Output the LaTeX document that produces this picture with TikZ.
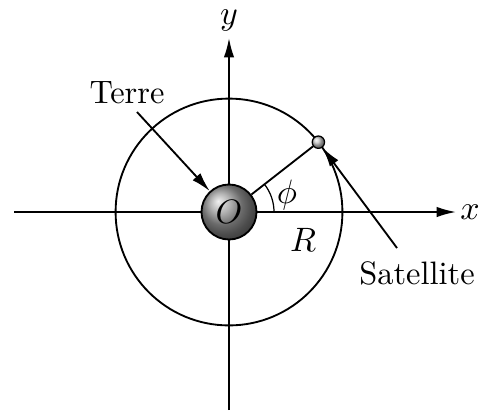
\documentclass[tikz,border=0pt]{standalone}
\usetikzlibrary{arrows.meta,calc}
\begin{document}
\begin{tikzpicture}[x=0.3236pt,y=-0.3236pt,
  every node/.style={font=\fontsize{10.5pt}{12.6pt}\selectfont},
  line/.style={line width=0.6pt},
  tip/.style={-{Latex[length=6.3pt,width=3.4pt]}},
  lbl/.style={inner sep=0pt}]
\useasboundingbox (0,0) rectangle (484,411);
\coordinate (O) at (229,212);
\coordinate (xs) at (14,212);
\coordinate (xe) at (456,212);
\coordinate (ys) at (229,410);
\coordinate (ye) at (229,38);
\draw[line,tip] (xs) -- (xe);
\draw[line,tip] (ys) -- (ye);
\draw[line] (O) circle[radius=36.7pt];
\node[lbl] (xl) at (470,212) {$x$};
\node[lbl] (yl) at (229,21) {$y$};
\node[circle,draw,line width=0.6pt,shading=ball,ball color=gray!80,minimum size=17.8pt,inner sep=0pt] (earth) at (O) {$O$};
\node[circle,draw,line width=0.4pt,shading=ball,ball color=gray!45,minimum size=4pt,inner sep=0pt] (sat) at ($(O)+(38:36.7pt)$) {};
\draw[line] (earth) -- (sat);
\draw[line width=0.4pt] ($(O)+(45,0)$) arc[start angle=0,end angle=-38,radius=45];
\node[lbl] (phi) at (287,195) {$\phi$};
\node[lbl] (R) at (303,240) {$R$};
\node[lbl] (terre) at (127,93) {Terre};
\node[lbl] (satl) at (417,273) {Satellite};
\coordinate (t1) at (137,112);
\coordinate (s1) at (397,248);
\draw[line,tip] (t1) -- (earth);
\draw[line,tip] (s1) -- (sat);
\end{tikzpicture}
\end{document}
